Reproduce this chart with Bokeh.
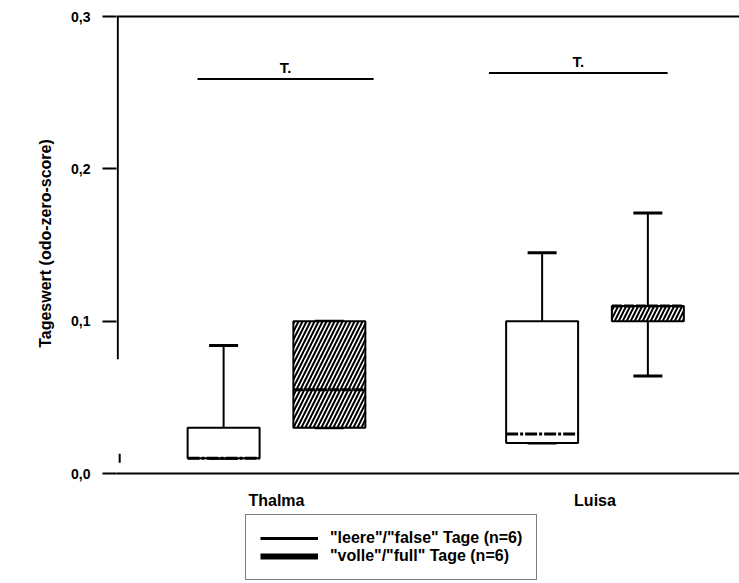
from bokeh.plotting import figure
from bokeh.layouts import column
from bokeh.models import (ColumnDataSource, Range1d, FixedTicker, Legend, LegendItem)
from bokeh.core.properties import value
from bokeh.embed import file_html
from bokeh.resources import INLINE

# ---- data ----
categories = ["Thalma", "Luisa"]
cat_pos = [1.0, 2.0]
series = ['"leere"/"false" Tage (n=6)', '"volle"/"full" Tage (n=6)']

# leere / false days
leere_q1 = [0.010, 0.020]
leere_med = [0.010, 0.026]
leere_q3 = [0.030, 0.100]
leere_lo = [0.010, 0.020]
leere_hi = [0.084, 0.145]

# volle / full days
volle_q1 = [0.030, 0.100]
volle_med = [0.055, 0.110]
volle_q3 = [0.100, 0.110]
volle_lo = [0.030, 0.064]
volle_hi = [0.100, 0.171]

# significance brackets
sig_label = ["T.", "T."]
sig_y = [0.259, 0.263]
sig_start = [-0.248, -0.333]
sig_end = [0.305, 0.228]

y_ticks = [0.0, 0.1, 0.2, 0.3]
y_tick_labels = ["0,0", "0,1", "0,2", "0,3"]
y_label = "Tageswert (odo-zero-score)"

# ---- layout constants ----
OFF = 0.166
BW = 0.226
CAP = 0.091
FONT = "Liberation Sans"
NAN = float("nan")

p = figure(width=739, height=512, output_backend="svg", toolbar_location=None,
           x_range=Range1d(0.4977, 2.4537), y_range=Range1d(0, 0.302),
           min_border_left=116, min_border_right=0, min_border_top=13,
           min_border_bottom=39)
p.outline_line_color = None
p.xgrid.visible = False
p.ygrid.visible = False
p.background_fill_color = "white"
p.border_fill_color = "white"

# axes
p.yaxis.ticker = FixedTicker(ticks=y_ticks)
p.yaxis.major_label_overrides = {t: l for t, l in zip(y_ticks, y_tick_labels)}
p.yaxis.axis_line_color = None
p.yaxis.major_tick_out = 14
p.yaxis.major_tick_in = 0
p.yaxis.major_tick_line_width = 2
p.yaxis.minor_tick_line_color = None
p.yaxis.major_label_standoff = 12
p.yaxis.major_label_text_font = FONT
p.yaxis.major_label_text_font_style = "bold"
p.yaxis.major_label_text_font_size = "14px"
p.yaxis.major_label_text_color = "black"
p.yaxis.axis_label = y_label
p.yaxis.axis_label_text_font = FONT
p.yaxis.axis_label_text_font_style = "bold"
p.yaxis.axis_label_text_font_size = "16px"
p.yaxis.axis_label_text_color = "black"
p.yaxis.axis_label_standoff = 14

p.xaxis.ticker = FixedTicker(ticks=cat_pos)
p.xaxis.major_label_overrides = {c: n for c, n in zip(cat_pos, categories)}
p.xaxis.axis_line_width = 2
p.xaxis.major_tick_line_color = None
p.xaxis.minor_tick_line_color = None
p.xaxis.major_label_standoff = 12
p.xaxis.major_label_text_font = FONT
p.xaxis.major_label_text_font_style = "bold"
p.xaxis.major_label_text_font_size = "16px"
p.xaxis.major_label_text_color = "black"

# y axis line (with break) and top line
x0 = p.x_range.start + 0.004
p.segment(x0=[x0], y0=[0.3], x1=[x0], y1=[0.075], line_color="black", line_width=2)
p.segment(x0=[x0 + 0.006], y0=[0.007], x1=[x0 + 0.006], y1=[0.013], line_color="black", line_width=2)
p.segment(x0=[p.x_range.start], y0=[0.3], x1=[p.x_range.end], y1=[0.3], line_color="black", line_width=2)

def draw(q1, med, q3, lo, hi, off, hatch, dash):
    xs = [c + off for c in cat_pos]
    src = ColumnDataSource(dict(x=xs, q1=q1, q3=q3, med=med, lo=lo, hi=hi,
                                xl=[x - BW / 2 for x in xs], xr=[x + BW / 2 for x in xs],
                                cl=[x - CAP / 2 for x in xs], cr=[x + CAP / 2 for x in xs]))
    p.segment(x0="x", y0="q3", x1="x", y1="hi", source=src, line_color="black", line_width=2)
    p.segment(x0="x", y0="q1", x1="x", y1="lo", source=src, line_color="black", line_width=2)
    p.segment(x0="cl", y0="hi", x1="cr", y1="hi", source=src, line_color="black", line_width=3)
    p.segment(x0="cl", y0="lo", x1="cr", y1="lo", source=src, line_color="black", line_width=3)
    kw = dict(hatch_pattern="/", hatch_color="black", hatch_scale=8, hatch_weight=2) if hatch else {}
    p.vbar(x="x", width=BW, bottom="q1", top="q3", source=src, fill_color="white",
           line_color="black", line_width=2, **kw)
    p.segment(x0="xl", y0="med", x1="xr", y1="med", source=src, line_color="black",
              line_width=3, line_dash=dash)

draw(leere_q1, leere_med, leere_q3, leere_lo, leere_hi, -OFF, False, "12 2 3 2")
draw(volle_q1, volle_med, volle_q3, volle_lo, volle_hi, OFF, True, "10 2")

# significance brackets
bsrc = ColumnDataSource(dict(x0=[c + s for c, s in zip(cat_pos, sig_start)],
                             x1=[c + e for c, e in zip(cat_pos, sig_end)],
                             y=sig_y, label=sig_label,
                             xm=[c + (s + e) / 2 for c, s, e in zip(cat_pos, sig_start, sig_end)]))
p.segment(x0="x0", y0="y", x1="x1", y1="y", source=bsrc, line_color="black", line_width=2)
p.text(x="xm", y="y", text="label", source=bsrc, text_align="center", text_baseline="bottom",
       y_offset=-3, text_font=value(FONT), text_font_style="bold",
       text_font_size="15px", text_color="black")

# ---- legend figure (frame aligned with the main plot's frame) ----
lf = figure(width=739, height=71, output_backend="svg", toolbar_location=None,
            x_range=Range1d(0, 1), y_range=Range1d(0, 1),
            x_axis_location=None, y_axis_location=None,
            min_border_left=116, min_border_right=0, min_border_top=0, min_border_bottom=0)
lf.outline_line_color = None
lf.xgrid.visible = False
lf.ygrid.visible = False
r1 = lf.line(x=[NAN], y=[NAN], line_color="black", line_width=3)
r2 = lf.line(x=[NAN], y=[NAN], line_color="black", line_width=6)
legend = Legend(items=[LegendItem(label=series[0], renderers=[r1]),
                       LegendItem(label=series[1], renderers=[r2])],
                location=(129, 3), orientation="vertical")
legend.glyph_width = 58
legend.glyph_height = 16
legend.label_height = 16
legend.spacing = 0
legend.padding = 14
legend.margin = 0
legend.label_standoff = 12
legend.label_text_font = FONT
legend.label_text_font_style = "bold"
legend.label_text_font_size = "16px"
legend.label_text_color = "black"
legend.border_line_color = "black"
legend.border_line_width = 1
legend.background_fill_alpha = 0
lf.add_layout(legend, "center")

layout = column(p, lf, spacing=0)
open("out.html", "w").write(file_html(layout, INLINE))
